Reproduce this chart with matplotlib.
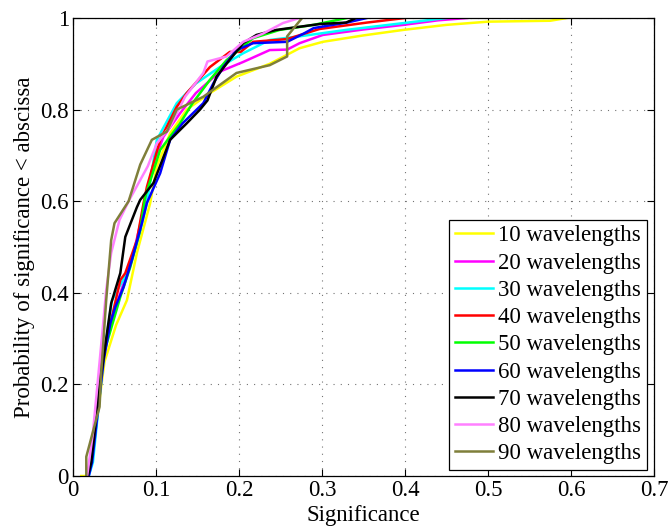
import numpy as np
import matplotlib
matplotlib.use('Agg')
import matplotlib.pyplot as plt

plt.rcParams['font.family'] = ['Liberation Serif', 'DejaVu Serif']
plt.rcParams['mathtext.fontset'] = 'stix'

# significance values (x) and cumulative probability (y)
x10 = [0.010, 0.018, 0.022, 0.038, 0.052, 0.065, 0.077, 0.093, 0.101, 0.117, 0.137, 0.165, 0.197, 0.237, 0.273, 0.301, 0.350, 0.398, 0.450, 0.500, 0.575, 0.595]
y10 = [0.0, 0.0, 0.03, 0.25, 0.33, 0.384, 0.487, 0.596, 0.676, 0.748, 0.80, 0.836, 0.872, 0.90, 0.934, 0.948, 0.962, 0.974, 0.985, 0.992, 0.994, 1.0]

x20 = [0.018, 0.022, 0.036, 0.057, 0.073, 0.083, 0.087, 0.097, 0.109, 0.129, 0.148, 0.177, 0.205, 0.237, 0.258, 0.273, 0.301, 0.350, 0.398, 0.440, 0.475]
y20 = [0.0, 0.03, 0.275, 0.399, 0.487, 0.566, 0.60, 0.683, 0.741, 0.792, 0.836, 0.883, 0.904, 0.93, 0.931, 0.945, 0.963, 0.975, 0.985, 0.995, 1.0]

x30 = [0.019, 0.024, 0.037, 0.047, 0.067, 0.079, 0.089, 0.101, 0.125, 0.148, 0.177, 0.205, 0.237, 0.273, 0.329, 0.394, 0.450]
y30 = [0.0, 0.03, 0.26, 0.384, 0.45, 0.522, 0.596, 0.734, 0.814, 0.857, 0.893, 0.923, 0.952, 0.96, 0.974, 0.988, 1.0]

x40 = [0.018, 0.022, 0.036, 0.057, 0.063, 0.077, 0.085, 0.089, 0.105, 0.125, 0.137, 0.165, 0.189, 0.202, 0.217, 0.258, 0.297, 0.354, 0.400]
y40 = [0.0, 0.03, 0.26, 0.428, 0.443, 0.515, 0.596, 0.631, 0.734, 0.806, 0.836, 0.893, 0.926, 0.926, 0.948, 0.954, 0.976, 0.99, 1.0]

x50 = [0.018, 0.022, 0.036, 0.057, 0.069, 0.081, 0.087, 0.105, 0.129, 0.144, 0.165, 0.185, 0.217, 0.249, 0.290, 0.330]
y50 = [0.0, 0.03, 0.26, 0.391, 0.456, 0.537, 0.61, 0.712, 0.77, 0.814, 0.865, 0.908, 0.956, 0.974, 0.985, 1.0]

x60 = [0.019, 0.023, 0.037, 0.045, 0.051, 0.061, 0.071, 0.083, 0.089, 0.105, 0.117, 0.132, 0.157, 0.169, 0.181, 0.197, 0.217, 0.258, 0.278, 0.290, 0.330, 0.354]
y60 = [0.0, 0.03, 0.253, 0.334, 0.369, 0.413, 0.472, 0.552, 0.596, 0.661, 0.734, 0.77, 0.814, 0.857, 0.893, 0.93, 0.945, 0.948, 0.966, 0.978, 0.99, 1.0]

x70 = [0.018, 0.022, 0.032, 0.042, 0.046, 0.057, 0.063, 0.069, 0.077, 0.081, 0.097, 0.117, 0.137, 0.153, 0.162, 0.173, 0.185, 0.205, 0.221, 0.245, 0.298, 0.329, 0.341]
y70 = [0.0, 0.03, 0.195, 0.326, 0.377, 0.443, 0.522, 0.55, 0.587, 0.603, 0.64, 0.734, 0.77, 0.80, 0.82, 0.872, 0.90, 0.945, 0.963, 0.974, 0.987, 0.99, 1.0]

x80 = [0.017, 0.024, 0.036, 0.040, 0.046, 0.056, 0.067, 0.090, 0.101, 0.117, 0.135, 0.157, 0.162, 0.185, 0.205, 0.229, 0.253, 0.273]
y80 = [0.0, 0.094, 0.326, 0.406, 0.487, 0.559, 0.60, 0.676, 0.726, 0.763, 0.828, 0.88, 0.905, 0.916, 0.948, 0.966, 0.989, 1.0]

x90 = [0.016, 0.016, 0.032, 0.034, 0.040, 0.046, 0.050, 0.067, 0.081, 0.095, 0.113, 0.125, 0.157, 0.197, 0.237, 0.258, 0.258, 0.276]
y90 = [0.0, 0.042, 0.151, 0.225, 0.384, 0.515, 0.552, 0.60, 0.68, 0.734, 0.752, 0.80, 0.828, 0.88, 0.897, 0.916, 0.96, 1.0]

labels = ['10 wavelengths', '20 wavelengths', '30 wavelengths', '40 wavelengths', '50 wavelengths',
          '60 wavelengths', '70 wavelengths', '80 wavelengths', '90 wavelengths']
colors = ['#ffff00', '#ff00ff', '#00ffff', '#ff0000', '#00ff00', '#0000ff', '#000000', '#ff80ff', '#7f7f3a']
xs = [x10, x20, x30, x40, x50, x60, x70, x80, x90]
ys = [y10, y20, y30, y40, y50, y60, y70, y80, y90]

fig = plt.figure(figsize=(6.68, 5.28), dpi=100)
ax = fig.add_axes([73/668, 1 - 476/528, 581/668, 458/528])

for x, y, c, lab in zip(xs, ys, colors, labels):
    ax.plot(x, y, color=c, lw=1.8, label=lab)

ax.set_xlim(0, 0.7)
ax.set_ylim(0, 1)
ax.set_xticks(np.arange(0, 0.71, 0.1))
ax.set_xticklabels(['0', '0.1', '0.2', '0.3', '0.4', '0.5', '0.6', '0.7'])
ax.set_yticks(np.arange(0, 1.01, 0.2))
ax.set_yticklabels(['0', '0.2', '0.4', '0.6', '0.8', '1'])
ax.tick_params(direction='in', top=True, right=True, length=5, width=0.8, labelsize=16.5, pad=3)
ax.grid(True, linestyle=(0, (1, 5.5)), color='0.45', lw=0.8)
for s in ax.spines.values():
    s.set_linewidth(0.9)

ax.set_xlabel('Significance', fontsize=16.5, labelpad=3)
ax.set_ylabel('Probability of significance < abscissa', fontsize=16.5, labelpad=4)

leg = ax.legend(loc='lower right', bbox_to_anchor=(0.988, 0.013), fontsize=16.5,
                frameon=True, fancybox=False, edgecolor='black', framealpha=1,
                handlelength=1.66, handletextpad=0.25, labelspacing=0.27,
                borderpad=0.25, borderaxespad=0)
leg.get_frame().set_linewidth(0.9)

fig.savefig('out.png', dpi=100)
